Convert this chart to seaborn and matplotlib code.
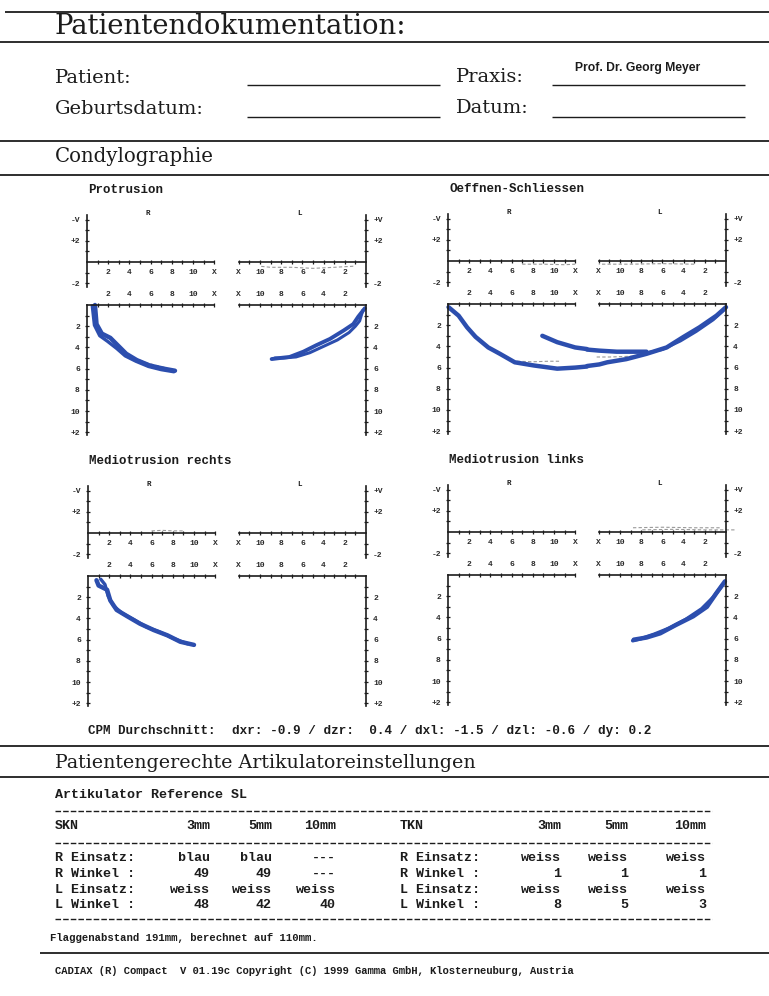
import matplotlib
matplotlib.use("Agg")
import matplotlib.pyplot as plt
import seaborn as sns

# ---------------- data (mm) ----------------
# Protrusion
prot_r_x = [0.75, 0.9, 1.4, 2.2, 3.0, 3.7, 4.7, 5.9, 7.2, 8.3]
prot_r_y = [0.0, 1.8, 2.7, 3.1, 3.9, 4.6, 5.2, 5.7, 6.0, 6.2]
prot_r2_x = [0.5, 0.7, 1.2, 1.9, 2.8, 3.6, 4.6, 5.8, 7.0, 8.2]
prot_r2_y = [0.1, 1.9, 2.9, 3.4, 4.1, 4.8, 5.3, 5.8, 6.1, 6.3]
prot_r_ref_x = [4.5, 5.5, 6.5, 7.5]
prot_r_ref_y = [5.0, 5.4, 5.7, 5.9]
prot_l_x = [0.1, 0.73, 1.2, 2.1, 3.4, 4.7, 5.9, 7.2, 8.1, 8.9]
prot_l_y = [0.3, 1.1, 1.8, 2.4, 3.2, 3.8, 4.4, 4.9, 5.0, 5.1]
prot_l2_x = [0.3, 0.6, 1.0, 1.6, 2.7, 4.0, 5.3, 6.6, 7.8, 8.6]
prot_l2_y = [0.5, 1.5, 2.0, 2.6, 3.3, 3.9, 4.5, 4.9, 5.0, 5.0]
prot_lu_ref_x = [1.2, 3.0, 5.0, 7.0, 9.0, 10.0]
prot_lu_ref_y = [-0.4, -0.5, -0.6, -0.5, -0.5, -0.4]

# Oeffnen-Schliessen
oef_r_x = [0.05, 1.0, 1.8, 2.6, 3.8, 4.9, 6.3, 8.1, 10.3, 12.0, 13.1]
oef_r_y = [0.3, 1.1, 2.2, 3.1, 4.1, 4.7, 5.5, 5.8, 6.1, 6.0, 5.9]
oef_l_x = [13.1, 11.95, 11.2, 9.4, 7.5, 5.6, 4.0, 2.5, 0.9, 0.0]
oef_l_y = [5.85, 5.7, 5.5, 5.2, 4.7, 4.1, 3.1, 2.2, 1.1, 0.3]
oef_l2_x = [0.2, 1.2, 2.8, 4.3, 6.0, 7.5]
oef_l2_y = [0.6, 1.5, 2.6, 3.5, 4.3, 4.6]
oef_ri_x = [8.9, 10.3, 12.0, 13.1]
oef_ri_y = [3.0, 3.6, 4.1, 4.25]
oef_li_x = [13.1, 11.95, 10.3, 8.7, 7.5]
oef_li_y = [4.3, 4.4, 4.5, 4.5, 4.5]
oef_r_ref_x = [6.5, 8.0, 9.5, 10.5]
oef_r_ref_y = [5.4, 5.45, 5.4, 5.4]
oef_l_ref_x = [12.2, 11.0, 9.5, 8.1]
oef_l_ref_y = [5.0, 5.0, 4.95, 4.9]
oef_ru_ref_x = [7.0, 9.0, 11.0, 12.0]
oef_ru_ref_y = [-0.3, -0.3, -0.35, -0.3]
oef_lu_ref_x = [3.0, 6.0, 9.0, 12.0]
oef_lu_ref_y = [-0.3, -0.25, -0.3, -0.3]

# Mediotrusion rechts
medr_r_x = [0.8, 1.0, 1.8, 2.1, 2.7, 3.7, 4.9, 6.2, 7.5, 8.7, 10.0]
medr_r_y = [0.4, 0.9, 1.3, 2.3, 3.2, 3.8, 4.5, 5.1, 5.6, 6.2, 6.5]
medr_r2_x = [1.2, 1.6, 1.9, 2.4, 3.2, 4.3, 5.5, 6.8, 8.1, 9.4]
medr_r2_y = [0.3, 0.8, 1.9, 2.8, 3.5, 4.1, 4.8, 5.3, 5.9, 6.4]
medr_ru_ref_x = [6.0, 7.0, 8.0, 9.0]
medr_ru_ref_y = [0.2, 0.25, 0.2, 0.2]

# Mediotrusion links
medl_l_x = [0.1, 0.9, 1.8, 3.1, 4.7, 6.2, 7.5, 8.7]
medl_l_y = [0.6, 1.7, 3.0, 3.9, 4.7, 5.5, 5.9, 6.1]
medl_l2_x = [0.3, 1.2, 2.3, 3.8, 5.3, 6.8, 8.0, 8.8]
medl_l2_y = [0.9, 2.1, 3.2, 4.2, 5.0, 5.6, 6.0, 6.2]
medl_lu_ref_x = [0.6, 3.0, 6.0, 8.8]
medl_lu_ref_y = [0.4, 0.4, 0.45, 0.4]
medl_lu_ref2_x = [-0.8, 2.0, 5.0, 8.0]
medl_lu_ref2_y = [0.2, 0.2, 0.25, 0.2]

# tick labels
x_ticks = [2, 4, 6, 8, 10, 12]
x_labels = ["2", "4", "6", "8", "10", "X"]
up_ticks = [-2, 2, 4]
up_labels_r = ["-2", "+2", "-V"]
up_labels_l = ["-2", "+2", "+V"]
low_ticks = [2, 4, 6, 8, 10, 12]
low_labels = ["2", "4", "6", "8", "10", "+2"]

cpm_label = "CPM Durchschnitt:"
cpm_values = "dxr: -0.9 / dzr:  0.4 / dxl: -1.5 / dzl: -0.6 / dy: 0.2"

skn_rows = ["R Einsatz:", "R Winkel :", "L Einsatz:", "L Winkel :"]
skn_cols = ["3mm", "5mm", "10mm"]
skn_vals = [["blau", "blau", "---"], ["49", "49", "---"],
            ["weiss", "weiss", "weiss"], ["48", "42", "40"]]
tkn_rows = ["R Einsatz:", "R Winkel :", "L Einsatz:", "L Winkel :"]
tkn_vals = [["weiss", "weiss", "weiss"], ["1", "1", "1"],
            ["weiss", "weiss", "weiss"], ["8", "5", "3"]]

# ---------------- figure ----------------
sns.set_theme(style="white")
plt.rcParams['font.family'] = ['DejaVu Sans']

W, H = 769, 996
S = 10.6  # px per mm
BLUE = "#2c4eae"
INK = "#1c1c1c"
GREY = "#9a9a9a"
MONO = "Liberation Mono"
SERIF = "DejaVu Serif"

fig = plt.figure(figsize=(W / 100, H / 100), dpi=100)
fig.patch.set_facecolor("white")
bg = fig.add_axes([0, 0, 1, 1])
bg.set_xlim(0, W)
bg.set_ylim(H, 0)
bg.axis("off")


def hline(y, x0, x1, lw=1.3, ls="-", color=INK):
    bg.plot([x0, x1], [y, y], color=color, lw=lw, ls=ls, solid_capstyle="butt")


# header
hline(12, 5, 769)
bg.text(55, 34, "Patientendokumentation:", family=SERIF, fontsize=19.8, color=INK, va="baseline")
hline(42, 0, 769)
bg.text(55, 83, "Patient:", family=SERIF, fontsize=14, color=INK, va="baseline")
bg.text(55, 114, "Geburtsdatum:", family=SERIF, fontsize=14, color=INK, va="baseline")
bg.text(456, 82, "Praxis:", family=SERIF, fontsize=14, color=INK, va="baseline")
bg.text(456, 113, "Datum:", family=SERIF, fontsize=14, color=INK, va="baseline")
bg.text(575, 68, "Prof. Dr. Georg Meyer", family="Liberation Sans", fontweight="bold",
        fontsize=8.7, color=INK, va="center")
for yy in (85, 117):
    hline(yy, 247, 440, lw=1.0)
    hline(yy, 552, 745, lw=1.0)
hline(141, 0, 769)
bg.text(55, 162, "Condylographie", family=SERIF, fontsize=14.2, color=INK, va="baseline")
hline(175, 0, 769)


def add_ax(left, top, w, h):
    ax = fig.add_axes([left / W, 1 - (top + h) / H, w / W, h / H])
    ax.set_facecolor("none")
    for s in ax.spines.values():
        s.set_visible(False)
        s.set_color(INK)
        s.set_linewidth(1.2)
    return ax


def tickstyle(ax, pad):
    ax.tick_params(which="both", direction="inout", length=3.4, width=0.9,
                   color=INK, labelsize=5.8, labelcolor="#2a2a2a", pad=pad)
    for lab in ax.get_xticklabels() + ax.get_yticklabels():
        lab.set_family(MONO)
        lab.set_fontweight("bold")


def upper(ax, side):
    ax.set_ylim(-2.4, 4.4)
    ax.set_xlim(0, 12) if side == "R" else ax.set_xlim(12, 0)
    ax.spines["bottom"].set_visible(True)
    ax.spines["bottom"].set_position(("data", 0))
    vs = "left" if side == "R" else "right"
    ax.spines[vs].set_visible(True)
    ax.xaxis.set_ticks_position("bottom")
    ax.set_xticks(x_ticks, x_labels)
    ax.set_xticks(range(1, 12), minor=True)
    ax.yaxis.set_ticks_position(vs)
    ax.set_yticks(up_ticks, up_labels_r if side == "R" else up_labels_l)
    ax.set_yticks([-1, 1, 3], minor=True)
    tickstyle(ax, 3.5)


def lower(ax, side):
    ax.set_ylim(12.3, 0)
    ax.set_xlim(0, 12) if side == "R" else ax.set_xlim(12, 0)
    ax.spines["top"].set_visible(True)
    vs = "left" if side == "R" else "right"
    ax.spines[vs].set_visible(True)
    ax.xaxis.set_ticks_position("top")
    ax.set_xticks(x_ticks, x_labels)
    ax.set_xticks(range(1, 12), minor=True)
    ax.yaxis.set_ticks_position(vs)
    ax.set_yticks(low_ticks, low_labels)
    ax.set_yticks([1, 3, 5, 7, 9, 11], minor=True)
    tickstyle(ax, 3.5)


def panel(x0, x1, zero_y, low_y, title):
    w = 12 * S
    aur = add_ax(x0, zero_y - 4.4 * S, w, 6.8 * S)
    aul = add_ax(x1 - w, zero_y - 4.4 * S, w, 6.8 * S)
    alr = add_ax(x0, low_y, w, 12.3 * S)
    all_ = add_ax(x1 - w, low_y, w, 12.3 * S)
    bg.text(x0 + 1, zero_y - 72, title, family=MONO, fontweight="bold",
            fontsize=9, color=INK, va="center")
    bg.text(x0 + 61, zero_y - 49, "R", family=MONO, fontweight="bold",
            fontsize=5.5, color=INK, ha="center", va="center")
    bg.text(x1 - 66, zero_y - 49, "L", family=MONO, fontweight="bold",
            fontsize=5.5, color=INK, ha="center", va="center")
    return aur, aul, alr, all_


def trace(ax, xs, ys, lw=3.2, color=BLUE, ls="-"):
    sns.lineplot(x=xs, y=ys, ax=ax, sort=False, estimator=None, color=color,
                 lw=lw, ls=ls, clip_on=False, solid_capstyle="round")


def ref(ax, xs, ys):
    sns.lineplot(x=xs, y=ys, ax=ax, sort=False, estimator=None, color=GREY,
                 lw=0.8, dashes=(3, 2), clip_on=False)


# Protrusion
aur, aul, alr, all_ = panel(87, 366, 262, 305, "Protrusion")
ref(alr, prot_r_ref_x, prot_r_ref_y)
trace(alr, prot_r_x, prot_r_y)
trace(alr, prot_r2_x, prot_r2_y, lw=2.4)
trace(all_, prot_l_x, prot_l_y, lw=2.8)
trace(all_, prot_l2_x, prot_l2_y, lw=2.2)
ref(aul, prot_lu_ref_x, prot_lu_ref_y)
for a, sd in ((aur, "R"), (aul, "L")):
    upper(a, sd)
for a, sd in ((alr, "R"), (all_, "L")):
    lower(a, sd)

# Oeffnen-Schliessen
aur, aul, alr, all_ = panel(448, 726, 261, 304, "Oeffnen-Schliessen")
ref(alr, oef_r_ref_x, oef_r_ref_y)
ref(all_, oef_l_ref_x, oef_l_ref_y)
ref(aur, oef_ru_ref_x, oef_ru_ref_y)
ref(aul, oef_lu_ref_x, oef_lu_ref_y)
trace(alr, oef_r_x, oef_r_y)
trace(all_, oef_l_x, oef_l_y)
trace(all_, oef_l2_x, oef_l2_y, lw=2.0)
trace(alr, oef_ri_x, oef_ri_y)
trace(all_, oef_li_x, oef_li_y)
for a, sd in ((aur, "R"), (aul, "L")):
    upper(a, sd)
for a, sd in ((alr, "R"), (all_, "L")):
    lower(a, sd)

# Mediotrusion rechts
aur, aul, alr, all_ = panel(88, 366, 533, 576, "Mediotrusion rechts")
ref(aur, medr_ru_ref_x, medr_ru_ref_y)
trace(alr, medr_r_x, medr_r_y)
trace(alr, medr_r2_x, medr_r2_y, lw=2.4)
for a, sd in ((aur, "R"), (aul, "L")):
    upper(a, sd)
for a, sd in ((alr, "R"), (all_, "L")):
    lower(a, sd)

# Mediotrusion links
aur, aul, alr, all_ = panel(448, 726, 532, 575, "Mediotrusion links")
ref(aul, medl_lu_ref_x, medl_lu_ref_y)
ref(aul, medl_lu_ref2_x, medl_lu_ref2_y)
trace(all_, medl_l_x, medl_l_y)
trace(all_, medl_l2_x, medl_l2_y, lw=2.6)
for a, sd in ((aur, "R"), (aul, "L")):
    upper(a, sd)
for a, sd in ((alr, "R"), (all_, "L")):
    lower(a, sd)

# CPM line
bg.text(88, 731, cpm_label, family=MONO, fontweight="bold", fontsize=9, color=INK, va="center")
bg.text(232, 731, cpm_values, family=MONO, fontweight="bold", fontsize=9.1, color=INK, va="center")
hline(746, 0, 769)
bg.text(55, 768, "Patientengerechte Artikulatoreinstellungen", family=SERIF,
        fontsize=13.7, color=INK, va="baseline")
hline(777, 0, 769)

# table
TF = dict(family=MONO, fontweight="bold", fontsize=9.6, color=INK, va="center")
bg.text(55, 795, "Artikulator Reference SL", **TF)
hline(811, 55, 712, lw=1.0, ls=(0, (4, 1.5)))
bg.text(55, 826, "SKN", **TF)
bg.text(400, 826, "TKN", **TF)
skn_x = [210, 272, 336]
tkn_x = [561, 628, 706]
for c, xx in zip(skn_cols, skn_x):
    bg.text(xx, 826, c, ha="right", **TF)
for c, xx in zip(skn_cols, tkn_x):
    bg.text(xx, 826, c, ha="right", **TF)
hline(843, 55, 712, lw=1.0, ls=(0, (4, 1.5)))
row_y = [858, 874, 890, 905]
for i, yy in enumerate(row_y):
    bg.text(55, yy, skn_rows[i], **TF)
    bg.text(400, yy, tkn_rows[i], **TF)
    for j in range(3):
        bg.text(skn_x[j], yy, skn_vals[i][j], ha="right", **TF)
        bg.text(tkn_x[j], yy, tkn_vals[i][j], ha="right", **TF)
hline(919, 55, 712, lw=1.0, ls=(0, (4, 1.5)))
bg.text(50, 938, "Flaggenabstand 191mm, berechnet auf 110mm.", family=MONO,
        fontweight="bold", fontsize=7.7, color=INK, va="center")
hline(953, 40, 769)
bg.text(55, 971, "CADIAX (R) Compact  V 01.19c Copyright (C) 1999 Gamma GmbH, Klosterneuburg, Austria",
        family=MONO, fontweight="bold", fontsize=7.6, color=INK, va="center")

fig.savefig("out.png", dpi=100, facecolor="white")
